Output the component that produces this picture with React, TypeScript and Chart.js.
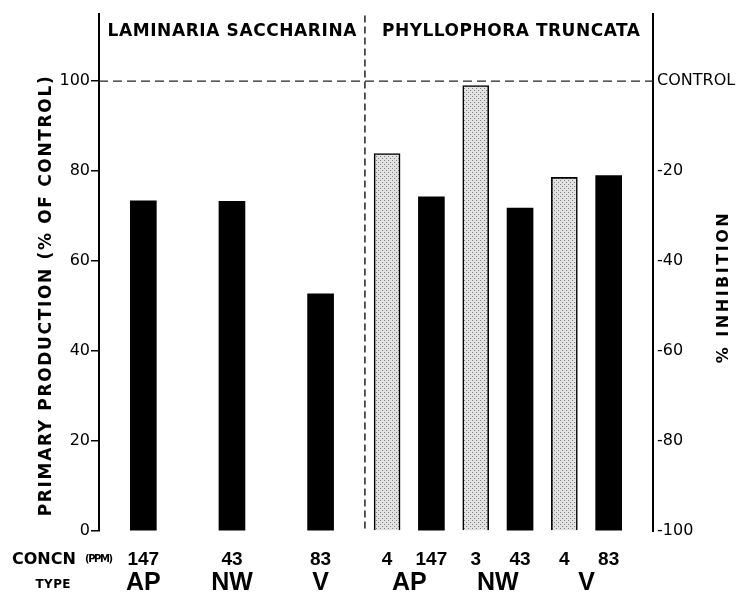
import React, { useEffect, useRef } from 'react';
import { Chart, registerables } from 'chart.js';

Chart.register(...registerables);

// ---------- data ----------
const species = ['LAMINARIA SACCHARINA', 'PHYLLOPHORA TRUNCATA'];
const speciesOfBar = [0, 0, 0, 1, 1, 1, 1, 1, 1];
const concn = ['147', '43', '83', '4', '147', '3', '43', '4', '83'];
const types = ['AP', 'NW', 'V', 'AP', 'AP', 'NW', 'NW', 'V', 'V'];
const production = [73.4, 73.3, 52.7, 83.9, 74.3, 99.0, 71.8, 78.6, 79.0];
const lowDose = [false, false, false, true, false, true, false, true, false];
const productionTicks = [0, 20, 40, 60, 80, 100];
const inhibitionTicks = ['-100', '-80', '-60', '-40', '-20', 'CONTROL'];
const controlLevel = 100;
const yTitle = 'PRIMARY PRODUCTION (% OF CONTROL)';
const y2Title = '% INHIBITION';
const concnLabel = 'CONCN';
const ppmLabel = '(PPM)';
const typeLabel = 'TYPE';

// ---------- layout helpers ----------
const REGION = 6; // x-units per species panel
const X_MAX = 12.5;

function barX(i: number): number {
  const s = speciesOfBar[i];
  const members: number[] = [];
  speciesOfBar.forEach((v, j) => { if (v === s) members.push(j); });
  const k = members.indexOf(i);
  const slot = REGION / members.length;
  return s * REGION + slot * (k + 0.5);
}

function fitText(
  ctx: CanvasRenderingContext2D, text: string, cx: number, cy: number,
  width: number, font: string, rotate = false,
) {
  ctx.save();
  ctx.font = font;
  ctx.fillStyle = '#000';
  ctx.textBaseline = 'middle';
  ctx.textAlign = 'left';
  ctx.translate(cx, cy);
  if (rotate) ctx.rotate(-Math.PI / 2);
  const n = Array.from(text).length;
  const natural = ctx.measureText(text).width;
  const anyCtx = ctx as any;
  if ('letterSpacing' in anyCtx && n > 1) {
    const sp = (width - natural) / (n - 1);
    anyCtx.letterSpacing = sp + 'px';
    ctx.fillText(text, -width / 2, 0);
  } else {
    ctx.scale(width / natural, 1);
    ctx.fillText(text, -natural / 2, 0);
  }
  ctx.restore();
}

function plainText(ctx: CanvasRenderingContext2D, text: string, cx: number, cy: number, font: string, align: CanvasTextAlign = 'center') {
  ctx.save();
  ctx.font = font;
  ctx.fillStyle = '#000';
  ctx.textAlign = align;
  ctx.textBaseline = 'middle';
  ctx.fillText(text, cx, cy);
  ctx.restore();
}

const decorPlugin = {
  id: 'decor',
  beforeDatasetsDraw(chart: any) {
    const ctx: CanvasRenderingContext2D = chart.ctx;
    const { left, right, top, bottom } = chart.chartArea;
    const xs = chart.scales.x;
    const ys = chart.scales.y;
    ctx.save();
    ctx.strokeStyle = '#222';
    ctx.lineWidth = 1.3;
    ctx.setLineDash([9, 5]);
    const yc = ys.getPixelForValue(controlLevel);
    ctx.beginPath();
    ctx.moveTo(left, yc);
    ctx.lineTo(right, yc);
    ctx.stroke();
    const xd = xs.getPixelForValue(REGION);
    ctx.lineWidth = 1.5;
    ctx.setLineDash([7, 4]);
    ctx.beginPath();
    ctx.moveTo(xd, top + 2);
    ctx.lineTo(xd, bottom);
    ctx.stroke();
    ctx.restore();
  },
  afterDraw(chart: any) {
    const ctx: CanvasRenderingContext2D = chart.ctx;
    const { right, top, bottom } = chart.chartArea;
    const xs = chart.scales.x;
    // species headers
    const b0 = xs.getPixelForValue(0);
    const b1 = xs.getPixelForValue(REGION);
    const b2 = xs.getPixelForValue(X_MAX);
    fitText(ctx, species[0], (b0 + b1) / 2, top + 18, 249, 'bold 17px "DejaVu Sans"');
    fitText(ctx, species[1], (b1 + b2) / 2 + 2, top + 18, 258, 'bold 17px "DejaVu Sans"');
    // axis titles
    fitText(ctx, yTitle, 47, (top + bottom) / 2 + 24, 440, 'bold 17px "DejaVu Sans"', true);
    fitText(ctx, y2Title, right + 71, (top + bottom) / 2 + 16, 150, 'bold 16px "DejaVu Sans"', true);
    // bottom rows
    const rowN = bottom + 29;
    const rowT = bottom + 52;
    plainText(ctx, concnLabel, 12, rowN, 'bold 16px "DejaVu Sans"', 'left');
    fitText(ctx, ppmLabel, 99, rowN - 1, 28, 'bold 10px "DejaVu Sans"');
    fitText(ctx, typeLabel, 53, rowT + 2, 35, 'bold 12px "DejaVu Sans"');
    concn.forEach((c, i) => {
      plainText(ctx, c, xs.getPixelForValue(barX(i)), rowN, 'bold 19px "Liberation Sans"');
    });
    // type labels: group consecutive bars of same type within a species
    let i = 0;
    while (i < types.length) {
      let j = i;
      while (j + 1 < types.length && types[j + 1] === types[i] && speciesOfBar[j + 1] === speciesOfBar[i]) j++;
      let sum = 0;
      for (let k = i; k <= j; k++) sum += barX(k);
      const cx = xs.getPixelForValue(sum / (j - i + 1));
      plainText(ctx, types[i], cx, rowT, 'bold 25px "Liberation Sans"');
      i = j + 1;
    }
  },
};

export default function App() {
  const ref = useRef<HTMLCanvasElement | null>(null);
  useEffect(() => {
    const canvas = ref.current;
    if (!canvas) return;
    // stipple pattern
    const pc = document.createElement('canvas');
    pc.width = 4;
    pc.height = 4;
    const pctx = pc.getContext('2d')!;
    pctx.fillStyle = '#e2e2e2';
    pctx.fillRect(0, 0, 4, 4);
    pctx.fillStyle = '#808080';
    pctx.fillRect(0, 0, 1, 1);
    pctx.fillRect(2, 2, 1, 1);
    const ctx = canvas.getContext('2d')!;
    const stipple = ctx.createPattern(pc, 'repeat');

    const chart = new Chart(canvas, {
      type: 'bar',
      data: {
        datasets: [
          {
            label: 'Primary production',
            data: production.map((v, i) => ({ x: barX(i), y: v })),
            backgroundColor: lowDose.map((l) => (l ? stipple : '#000')),
            borderColor: '#000',
            borderWidth: lowDose.map((l) => (l ? 1.6 : 0)),
            barThickness: 26,
          } as any,
        ],
      },
      options: {
        responsive: false,
        animation: false,
        events: [],
        layout: { padding: { top: 13, bottom: 64, left: 0, right: 0 } },
        plugins: { legend: { display: false }, tooltip: { enabled: false } },
        scales: {
          x: {
            type: 'linear',
            min: 0,
            max: X_MAX,
            offset: false,
            display: false,
          },
          y: {
            position: 'left',
            min: 0,
            max: 115,
            afterBuildTicks: (s: any) => { s.ticks = productionTicks.map((v) => ({ value: v })); },
            afterFit: (s: any) => { s.width = 99; },
            ticks: { color: '#000', font: { family: 'DejaVu Sans', size: 16 }, padding: 1 },
            grid: { drawOnChartArea: false, drawTicks: true, tickLength: 8, color: '#000', lineWidth: 1.5 },
            border: { display: true, color: '#000', width: 2 },
          },
          y2: {
            position: 'right',
            min: 0,
            max: 115,
            afterBuildTicks: (s: any) => { s.ticks = productionTicks.map((v) => ({ value: v })); },
            afterFit: (s: any) => { s.width = 95; },
            ticks: {
              color: '#000',
              font: { family: 'DejaVu Sans', size: 16 },
              padding: 4,
              callback: (_v: any, idx: number) => inhibitionTicks[idx],
            },
            grid: { drawOnChartArea: false, drawTicks: false, color: '#000' },
            border: { display: true, color: '#000', width: 2 },
          },
        },
      } as any,
      plugins: [decorPlugin],
    });
    return () => chart.destroy();
  }, []);
  return (
    <div style={{ position: 'fixed', left: 0, top: 0, width: 748, height: 595, background: '#fff' }}>
      <canvas ref={ref} width={748} height={595} style={{ display: 'block' }} />
    </div>
  );
}
